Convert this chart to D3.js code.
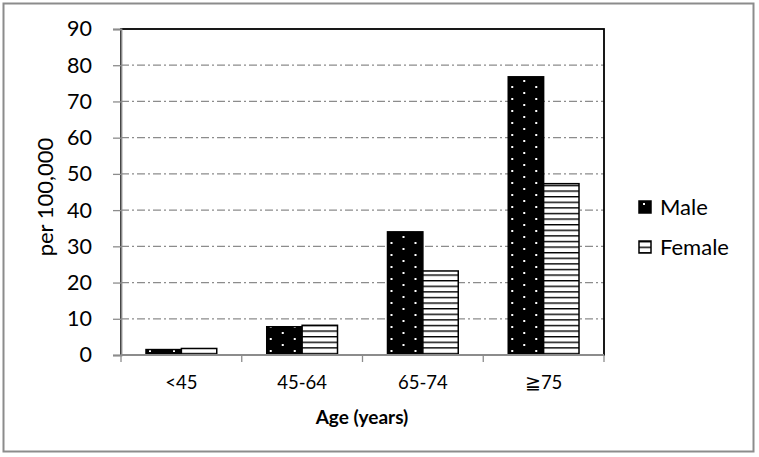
<html>
<head>
<script src="https://d3js.org/d3.v7.min.js"></script>
<style>
  body { margin: 0; background: white; }
  text { font-family: Lato, "Open Sans", sans-serif; fill: black; }
</style>
</head>
<body>
<svg id="chart" width="759" height="457"></svg>
<script>
  var categories = ["<45", "45-64", "65-74", "\u226775"];
  var series = ["Male", "Female"];
  var maleValues = [1.5, 7.8, 34.0, 76.8];
  var femaleValues = [1.8, 8.2, 23.2, 47.3];
  var yTicks = [0, 10, 20, 30, 40, 50, 60, 70, 80, 90];

  var svg = d3.select("#chart");
  var plotLeft = 121, plotRight = 604, plotTop = 29, plotBottom = 355;

  // patterns
  var defs = svg.append("defs");
  var dots = defs.append("pattern").attr("id", "dots")
    .attr("patternUnits", "userSpaceOnUse").attr("width", 24).attr("height", 12);
  dots.append("rect").attr("width", 24).attr("height", 12).attr("fill", "black");
  dots.append("rect").attr("x", 4).attr("y", 2).attr("width", 2).attr("height", 2).attr("fill", "white");
  dots.append("rect").attr("x", 16).attr("y", 8).attr("width", 2).attr("height", 2).attr("fill", "white");

  var hlines = defs.append("pattern").attr("id", "hlines")
    .attr("patternUnits", "userSpaceOnUse").attr("width", 8).attr("height", 5.6);
  hlines.append("rect").attr("width", 8).attr("height", 5.6).attr("fill", "white");
  hlines.append("rect").attr("y", 0).attr("width", 8).attr("height", 1.4).attr("fill", "black");

  // outer frame
  svg.append("rect").attr("x", 3.5).attr("y", 3.5).attr("width", 750).attr("height", 448)
    .attr("fill", "white").attr("stroke", "#8c8c8c").attr("stroke-width", 2);

  var y = d3.scaleLinear().domain([0, 90]).range([plotBottom, plotTop]);
  var x0 = d3.scaleBand().domain(categories).range([plotLeft, plotRight]).padding(0);
  var bw = x0.bandwidth();
  var x1 = d3.scaleBand().domain(series).range([bw * 0.207, bw * 0.793]).padding(0);

  // gridlines
  svg.append("g").selectAll("line").data(yTicks.filter(function(d) { return d > 0 && d < 90; }))
    .enter().append("line")
      .attr("x1", plotLeft).attr("x2", plotRight)
      .attr("y1", function(d) { return y(d); }).attr("y2", function(d) { return y(d); })
      .attr("stroke", "#8c8c8c").attr("stroke-width", 1.3)
      .attr("stroke-dasharray", "8,3,2,3");

  // plot border
  svg.append("rect").attr("x", plotLeft).attr("y", plotTop)
    .attr("width", plotRight - plotLeft).attr("height", plotBottom - plotTop)
    .attr("fill", "none").attr("stroke", "black").attr("stroke-width", 1.8);

  // bars
  var rows = categories.map(function(c, i) {
    return { cat: c, vals: [{ s: "Male", v: maleValues[i] }, { s: "Female", v: femaleValues[i] }] };
  });
  var groups = svg.append("g").selectAll("g").data(rows).enter().append("g")
    .attr("transform", function(d) { return "translate(" + x0(d.cat) + ",0)"; });
  groups.selectAll("rect").data(function(d) { return d.vals; }).enter().append("rect")
    .attr("x", function(d) { return x1(d.s); })
    .attr("y", function(d) { return y(d.v); })
    .attr("width", x1.bandwidth())
    .attr("height", function(d) { return plotBottom - y(d.v); })
    .attr("fill", function(d) { return d.s == "Male" ? "url(#dots)" : "url(#hlines)"; })
    .attr("stroke", "black").attr("stroke-width", 1.5);

  // y axis
  var yAxis = svg.append("g").attr("transform", "translate(" + plotLeft + ",0)")
    .call(d3.axisLeft(y).tickValues(yTicks).tickSize(8).tickPadding(21));
  yAxis.select(".domain").attr("stroke", "#8c8c8c").attr("stroke-width", 1.8);
  yAxis.selectAll(".tick line").attr("stroke", "#8c8c8c").attr("stroke-width", 1.3);
  yAxis.selectAll(".tick text").style("font-size", "21.5px").attr("font-family", null);

  // x axis
  var xTickPos = [plotLeft].concat(categories.map(function(c) { return x0(c) + bw; }));
  var xg = svg.append("g");
  xg.append("line").attr("x1", plotLeft).attr("x2", plotRight).attr("y1", plotBottom).attr("y2", plotBottom)
    .attr("stroke", "#8c8c8c").attr("stroke-width", 1.8);
  xg.selectAll("line.tk").data(xTickPos).enter().append("line").attr("class", "tk")
    .attr("x1", function(d) { return d; }).attr("x2", function(d) { return d; })
    .attr("y1", plotBottom).attr("y2", plotBottom + 7)
    .attr("stroke", "#8c8c8c").attr("stroke-width", 1.3);
  xg.selectAll("text").data(categories).enter().append("text")
    .attr("x", function(d) { return x0(d) + bw / 2; })
    .attr("y", 389)
    .attr("text-anchor", "middle")
    .style("font-size", "18.5px")
    .text(function(d) { return d; });

  svg.append("text").attr("x", 362).attr("y", 424).attr("text-anchor", "middle")
    .style("font-size", "19px").style("font-weight", "bold").text("Age (years)");

  svg.append("text").attr("transform", "translate(53,197) rotate(-90)")
    .attr("text-anchor", "middle").style("font-size", "22px").text("per 100,000");

  // legend
  var legend = svg.append("g").selectAll("g").data(series).enter().append("g")
    .attr("transform", function(d, i) { return "translate(639," + (201 + i * 40) + ")"; });
  legend.append("rect").attr("width", 12).attr("height", 12)
    .attr("fill", function(d) { return d == "Male" ? "url(#dots)" : "url(#hlines)"; })
    .attr("stroke", "black").attr("stroke-width", 1.5);
  legend.append("text").attr("x", 21).attr("y", 13.5).style("font-size", "22px")
    .text(function(d) { return d; });
</script>
</body>
</html>
